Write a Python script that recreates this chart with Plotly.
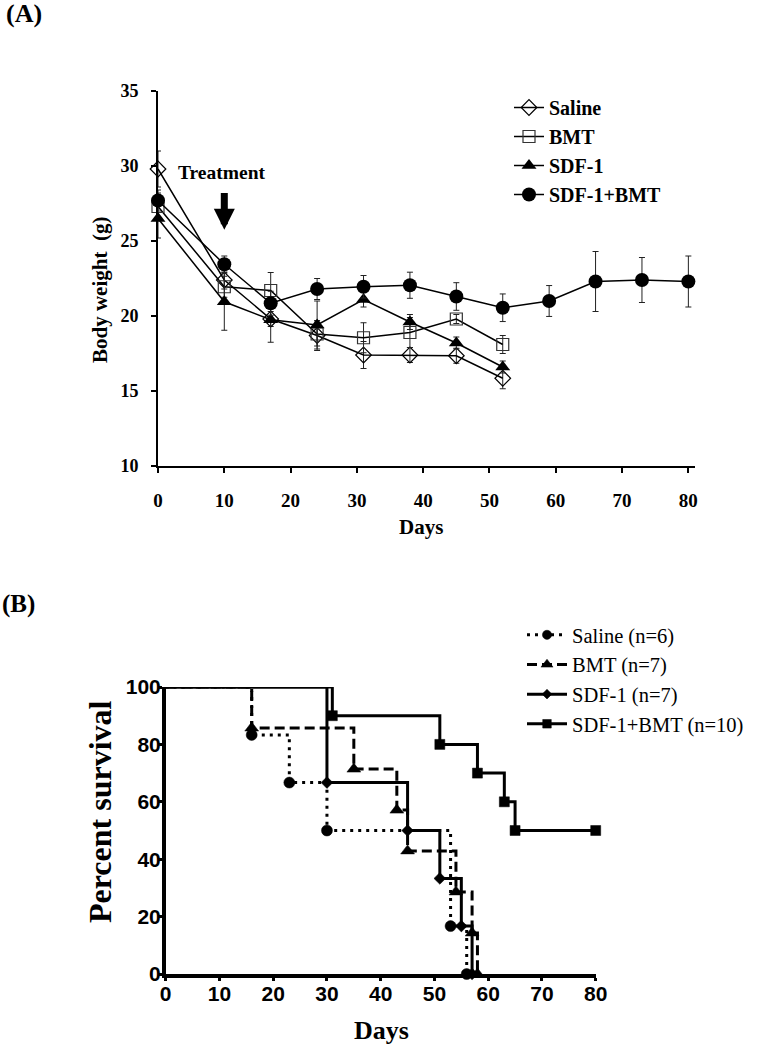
import plotly.graph_objects as go

# ---------------- Panel A data: body weight ----------------
days_short = [0, 10, 17, 24, 31, 38, 45, 52]
days_long = [0, 10, 17, 24, 31, 38, 45, 52, 59, 66, 73, 80]

saline_w = [29.8, 22.4, 19.8, 18.7, 17.4, 17.4, 17.35, 15.85]
saline_e = [1.2, 0.6, 0.5, 1.0, 0.9, 0.5, 0.5, 0.7]
bmt_w = [27.3, 21.95, 21.7, 18.8, 18.55, 18.9, 19.8, 18.1]
bmt_e = [0.9, 0.7, 1.2, 0.8, 1.0, 1.0, 0.3, 0.6]
sdf_w = [26.5, 20.95, 19.75, 19.4, 21.1, 19.6, 18.2, 16.6]
sdf_e = [1.3, 1.9, 1.5, 1.6, 0.5, 0.5, 0.4, 0.4]
combo_w = [27.7, 23.45, 20.85, 21.8, 21.95, 22.05, 21.3, 20.55, 21.0, 22.3, 22.4, 22.3]
combo_e = [0.7, 0.55, 0.8, 0.7, 0.75, 0.87, 0.92, 0.92, 1.03, 2.0, 1.5, 1.7]

names_A = ["Saline", "BMT", "SDF-1", "SDF-1+BMT"]
ticks_A_x = [0, 10, 20, 30, 40, 50, 60, 70, 80]
ticks_A_y = [10, 15, 20, 25, 30, 35]
treatment_day = 10

# ---------------- Panel B data: survival ----------------
sal_t = [0, 16, 23, 30, 53, 56]
sal_s = [100, 83.3, 66.7, 50, 16.7, 0]
bmt_t = [0, 16, 35, 43, 45, 54, 57, 58]
bmt_s = [100, 85.7, 71.4, 57.1, 42.9, 28.6, 14.3, 0]
sdf_t = [0, 30, 45, 51, 55, 57]
sdf_s = [100, 66.7, 50, 33.3, 16.7, 0]
combo_t = [0, 31, 51, 58, 63, 65, 80]
combo_s = [100, 90, 80, 70, 60, 50, 50]

names_B = ["Saline (n=6)", "BMT (n=7)", "SDF-1 (n=7)", "SDF-1+BMT (n=10)"]
ticks_B_x = [0, 10, 20, 30, 40, 50, 60, 70, 80]
ticks_B_y = [0, 20, 40, 60, 80, 100]

SERIF = "Liberation Serif, Times New Roman, serif"
NARROW = "Liberation Sans Narrow, Arial Narrow, Liberation Sans, Arial, sans-serif"
W, H = 777, 1050


def px(x):
    return x / W


def py(y):
    return 1 - y / H


fig = go.Figure()

# Panel A traces
specA = [
    (days_short, saline_w, saline_e, dict(symbol="diamond-open", size=12, color="black", line=dict(width=1.2, color="black"))),
    (days_short, bmt_w, bmt_e, dict(symbol="square-open", size=12, color="#333", line=dict(width=1.2, color="#333"))),
    (days_short, sdf_w, sdf_e, dict(symbol="triangle-up", size=13, color="black", line=dict(width=0))),
    (days_long, combo_w, combo_e, dict(symbol="circle", size=14, color="black", line=dict(width=0))),
]
for name, (x, y, e, mk) in zip(names_A, specA):
    fig.add_trace(go.Scatter(
        x=x, y=y, name=name, mode="lines+markers",
        line=dict(color="black", width=1.5), marker=mk,
        error_y=dict(type="data", array=e, visible=True, color="#222", thickness=1, width=3),
        xaxis="x", yaxis="y", legend="legend", cliponaxis=False,
    ))

# Panel B traces
specB = [
    (sal_t, sal_s, "3px,5px", "circle", 11),
    (bmt_t, bmt_s, "10px,5px", "triangle-up", 12),
    (sdf_t, sdf_s, "solid", "diamond", 9),
    (combo_t, combo_s, "solid", "square", 10),
]
for name, (t, s, dash, sym, sz) in zip(names_B, specB):
    sizes = [0] + [sz] * (len(t) - 1)
    fig.add_trace(go.Scatter(
        x=t, y=s, name=name, mode="lines+markers",
        line=dict(color="black", width=3, dash=dash, shape="hv"),
        marker=dict(symbol=sym, size=sizes, color="black", opacity=1,
                    line=dict(width=0.5, color="black")),
        xaxis="x2", yaxis="y2", legend="legend2", cliponaxis=False,
    ))

axA = dict(showgrid=False, zeroline=False, showline=True, linecolor="black", linewidth=2,
           ticks="outside", ticklen=5, tickwidth=2, tickcolor="black",
           tickfont=dict(family=SERIF, size=18, color="black", weight="bold"))
axB = dict(showgrid=False, zeroline=False, showline=True, linecolor="black", linewidth=3.5,
           ticks="outside", ticklen=3, tickwidth=3, tickcolor="black",
           tickfont=dict(family=NARROW, size=21, color="black", weight="bold"))

fig.update_layout(
    width=W, height=H, margin=dict(l=0, r=0, t=0, b=0, autoexpand=False),
    paper_bgcolor="white", plot_bgcolor="white", showlegend=True,
    xaxis=dict(axA, domain=[px(158), px(695)], range=[0, 81], tickvals=ticks_A_x,
               tickfont=dict(family=SERIF, size=19, color="black", weight="bold"),
               ticklabelstandoff=11, anchor="y", automargin=False),
    yaxis=dict(axA, domain=[py(466), py(91)], range=[10, 35], tickvals=ticks_A_y,
               ticklabelstandoff=9, anchor="x", automargin=False),
    xaxis2=dict(axB, domain=[px(165.7), px(595.7)], range=[0, 80], tickvals=ticks_B_x,
                ticklabelstandoff=-5, anchor="y2", automargin=False),
    yaxis2=dict(axB, domain=[py(974), py(687)], range=[0, 100], tickvals=ticks_B_y,
                ticklabelstandoff=-6, anchor="x2", automargin=False),
    legend=dict(x=px(509), y=py(88), xanchor="left", yanchor="top", bgcolor="rgba(0,0,0,0)",
                font=dict(family=SERIF, size=20, color="black", weight="bold"),
                itemwidth=30, tracegroupgap=0),
    legend2=dict(x=px(522), y=py(615), xanchor="left", yanchor="top", bgcolor="rgba(0,0,0,0)",
                 font=dict(family=SERIF, size=20.5, color="black"), itemwidth=40,
                 tracegroupgap=0),
)

ann = [
    dict(text="<b>(A)</b>", x=px(4), y=py(13), xanchor="left", yanchor="middle",
         font=dict(family=SERIF, size=26)),
    dict(text="<b>(B)</b>", x=px(0), y=py(604), xanchor="left", yanchor="middle",
         font=dict(family=SERIF, size=25)),
    dict(text="<b>Body weight \u00a0(g)</b>", x=px(100), y=py(290), textangle=-90,
         xanchor="center", yanchor="middle", font=dict(family=SERIF, size=21)),
    dict(text="<b>Days</b>", x=px(421), y=py(527), xanchor="center", yanchor="middle",
         font=dict(family=SERIF, size=21)),
    dict(text="<b>Percent survival</b>", x=px(100), y=py(812), textangle=-90,
         xanchor="center", yanchor="middle", font=dict(family=SERIF, size=32)),
    dict(text="<b>Days</b>", x=px(381), y=py(1030), xanchor="center", yanchor="middle",
         font=dict(family=SERIF, size=26)),
    dict(text="<b>Treatment</b>", x=px(222), y=py(172), xanchor="center", yanchor="middle",
         font=dict(family=SERIF, size=19.5)),
]
for a in ann:
    a.update(xref="paper", yref="paper", showarrow=False)
    a.setdefault("font", {})["color"] = "black"
    fig.add_annotation(**a)

fig.add_annotation(x=treatment_day, y=25.75, ax=treatment_day, ay=28.3, xref="x", yref="y",
                   axref="x", ayref="y", showarrow=True, arrowhead=2, arrowsize=0.6,
                   arrowwidth=7, arrowcolor="black", text="")

fig.write_html("out.html", config={"displayModeBar": False},
               post_script="document.body.style.margin='0px';")
